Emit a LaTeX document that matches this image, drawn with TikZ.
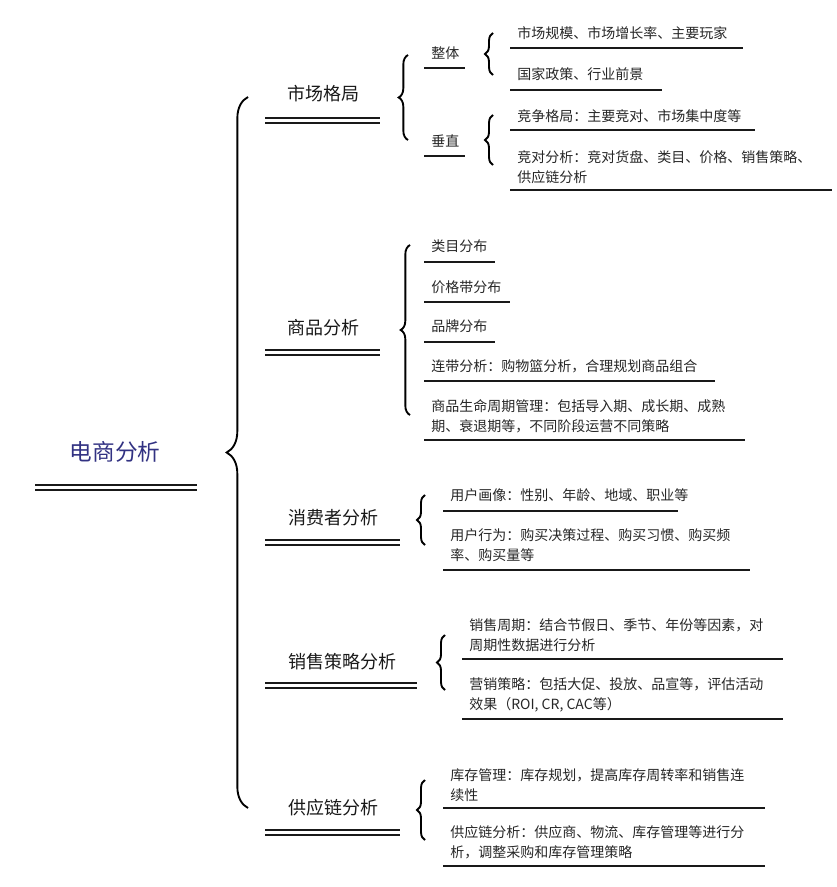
\documentclass[tikz,border=0pt]{standalone}
\usepackage{fontspec}
\newfontfamily\cjk{Noto Sans CJK SC}
\usetikzlibrary{decorations.pathreplacing}
\begin{document}
\begin{tikzpicture}[x=0.75pt,y=-0.75pt,
  leaf/.style={anchor=west,font=\cjk\fontsize{10.5}{15}\selectfont,align=left,inner sep=0pt,text=black!85},
  lvl/.style={anchor=center,font=\cjk\fontsize{13.5}{16}\selectfont,inner sep=0pt,text=black!90},
  ul/.style={line width=1.2pt,black!90},
  dul/.style={line width=1.2pt,black!90,double distance=2.2pt},
  br/.style={line width=1.4pt,decorate,decoration={brace,amplitude=#1}},
  br/.default=7pt]
\useasboundingbox (0,0) rectangle (836,887);
% root
\node[font=\cjk\fontsize{17}{20}\selectfont,text={rgb,255:red,50;green,50;blue,130}] (root) at (115,452) {电商分析};
\draw[dul] (35,487.5) -- (197,487.5);
\draw[br=16pt] (248,808) coordinate (b0s) -- (248,97) coordinate (b0e);
% level 1
\node[lvl] (m) at (323,94) {市场格局};
\draw[dul] (265,120.5) -- (380,120.5);
\node[lvl] (p) at (323,328) {商品分析};
\draw[dul] (265,352.5) -- (380,352.5);
\node[lvl] (c) at (333,518) {消费者分析};
\draw[dul] (265,542.5) -- (400,542.5);
\node[lvl] (s) at (342,662) {销售策略分析};
\draw[dul] (265,685.5) -- (417,685.5);
\node[lvl] (g) at (333,808) {供应链分析};
\draw[dul] (265,832.5) -- (400,832.5);
% 市场格局
\draw[br] (408,140) -- (408,55);
\node[leaf] (zt) at (431,53) {整体};
\draw[ul] (424,68) -- (465,68);
\node[leaf] (cz) at (431,141) {垂直};
\draw[ul] (424,156) -- (465,156);
\draw[br=6pt] (493,75) -- (493,33);
\node[leaf] (z1) at (517,33) {市场规模、市场增长率、主要玩家};
\draw[ul] (510,48) -- (743,48);
\node[leaf] (z2) at (517,74) {国家政策、行业前景};
\draw[ul] (510,90) -- (662,90);
\draw[br=6pt] (493,165) -- (493,115);
\node[leaf] (c1) at (517,116) {竞争格局：主要竞对、市场集中度等};
\draw[ul] (510,130) -- (755,130);
\node[leaf] (c2) at (517,167) {竞对分析：竞对货盘、类目、价格、销售策略、\\供应链分析};
\draw[ul] (510,190) -- (832,190);
% 商品分析
\draw[br=7pt] (410,415) -- (410,245);
\node[leaf] (p1) at (431,246) {类目分布};
\draw[ul] (424,262) -- (495,262);
\node[leaf] (p2) at (431,287) {价格带分布};
\draw[ul] (424,302) -- (510,302);
\node[leaf] (p3) at (431,326) {品牌分布};
\draw[ul] (424,342) -- (495,342);
\node[leaf] (p4) at (431,366) {连带分析：购物篮分析，合理规划商品组合};
\draw[ul] (424,381) -- (715,381);
\node[leaf] (p5) at (431,416) {商品生命周期管理：包括导入期、成长期、成熟\\期、衰退期等，不同阶段运营不同策略};
\draw[ul] (424,440) -- (745,440);
% 消费者分析
\draw[br=6pt] (425,545) -- (425,495);
\node[leaf] (u1) at (450,495) {用户画像：性别、年龄、地域、职业等};
\draw[ul] (443,511) -- (678,511);
\node[leaf] (u2) at (450,545) {用户行为：购买决策过程、购买习惯、购买频\\率、购买量等};
\draw[ul] (443,570) -- (750,570);
% 销售策略分析
\draw[br=6pt] (445,690) -- (445,635);
\node[leaf] (s1) at (469,635) {销售周期：结合节假日、季节、年份等因素，对\\周期性数据进行分析};
\draw[ul] (462,659) -- (783,659);
\node[leaf] (s2) at (469,695) {营销策略：包括大促、投放、品宣等，评估活动\\效果（ROI, CR, CAC等）};
\draw[ul] (462,719) -- (783,719);
% 供应链分析
\draw[br=6pt] (425,840) -- (425,780);
\node[leaf] (g1) at (450,785) {库存管理：库存规划，提高库存周转率和销售连\\续性};
\draw[ul] (443,808) -- (765,808);
\node[leaf] (g2) at (450,842) {供应链分析：供应商、物流、库存管理等进行分\\析，调整采购和库存管理策略};
\draw[ul] (443,866) -- (765,866);
\end{tikzpicture}
\end{document}
